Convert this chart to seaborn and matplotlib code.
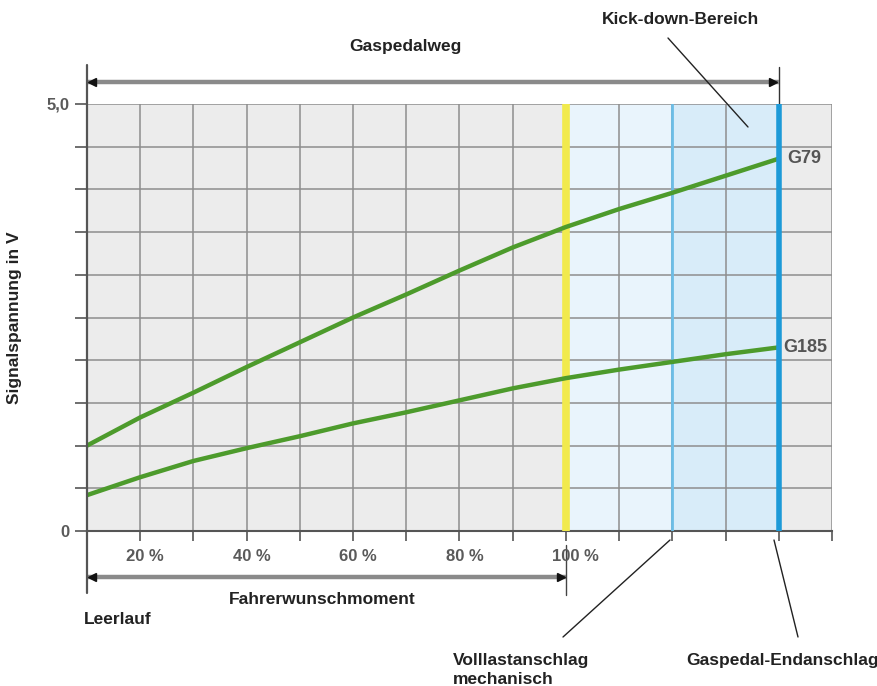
import matplotlib
matplotlib.use("Agg")
import pandas as pd
import matplotlib.pyplot as plt
import seaborn as sns

# Pedal travel (%) and sensor voltages (V)
pedal_pct = [10, 20, 30, 40, 50, 60, 70, 80, 90, 100, 110, 120, 130, 140]
g79_volt = [1.00, 1.33, 1.62, 1.92, 2.21, 2.50, 2.77, 3.05, 3.32, 3.56, 3.77, 3.96, 4.16, 4.36]
g185_volt = [0.42, 0.63, 0.82, 0.97, 1.11, 1.26, 1.39, 1.53, 1.67, 1.79, 1.89, 1.98, 2.07, 2.15]
sensor_names = ["G79", "G185"]

x_label_pos = [20, 40, 60, 80, 100]
x_label_text = ["20 %", "40 %", "60 %", "80 %", "100 %"]
y_label_text = {0.0: "0", 5.0: "5,0"}

full_load_pct = 100
kickdown_pct = 120
end_stop_pct = 140

W, H = 878, 686

sns.set_theme(style="whitegrid", rc={
    "axes.facecolor": "#ececec",
    "grid.color": "#8e8e8e",
    "grid.linewidth": 1.1,
})
plt.rcParams["font.family"] = ["Liberation Sans", "DejaVu Sans"]
plt.rcParams["font.weight"] = "bold"

df = pd.DataFrame({
    "pedal": pedal_pct * 2,
    "volt": g79_volt + g185_volt,
    "sensor": [sensor_names[0]] * len(pedal_pct) + [sensor_names[1]] * len(pedal_pct),
})

fig = plt.figure(figsize=(W / 100, H / 100), dpi=100)
ax = fig.add_axes([87 / W, 1 - 531 / H, (832 - 87) / W, (531 - 104) / H])

def px(x, y):
    return x / W, 1 - y / H

# shaded kick-down regions
ax.axvspan(full_load_pct, kickdown_pct, color="#e9f4fc", zorder=0.2, lw=0)
ax.axvspan(kickdown_pct, end_stop_pct, color="#d8ecf9", zorder=0.2, lw=0)

sns.lineplot(data=df, x="pedal", y="volt", hue="sensor",
             palette=["#4d9b2c", "#4d9b2c"], linewidth=3.2, legend=False, ax=ax, zorder=5)

ax.axvline(full_load_pct, color="#f1ea4d", lw=5.5, zorder=3)
ax.axvline(kickdown_pct, color="#6cbde6", lw=2, zorder=3)
ax.axvline(end_stop_pct, color="#1d9ad8", lw=4, zorder=6)

ax.set_xlim(10, 150)
ax.set_ylim(0, 5.0)
ax.set_xticks(range(10, 151, 10))
ax.set_xticklabels([])
yt = [i * 0.5 for i in range(11)]
ax.set_yticks(yt)
ax.set_yticklabels([y_label_text.get(v, "") for v in yt])
ax.tick_params(axis="y", length=8.5, width=1.2, color="#555555", left=True, pad=4,
               labelsize=12, labelcolor="#5a5a5a")
ax.tick_params(axis="x", length=7, width=1.2, color="#555555", bottom=True, direction="out")
for lab in ax.get_yticklabels():
    lab.set_fontweight("bold")
ax.set_xlabel("")
ax.set_ylabel("")

for sp in ["top", "right"]:
    ax.spines[sp].set_visible(False)
ax.spines["left"].set_visible(False)
ax.spines["bottom"].set_color("#555555")
ax.spines["bottom"].set_linewidth(1.5)

# x labels, starting just left of their ticks
for p, t in zip(x_label_pos, x_label_text):
    ax.text(p - 2.6, -0.30, t, ha="left", va="center", fontsize=12,
            color="#5a5a5a", fontweight="bold")

# sensor labels
ax.text(141.6, g79_volt[-1], sensor_names[0], ha="left", va="center", fontsize=13,
        color="#555555", fontweight="bold")
ax.text(140.8, g185_volt[-1], sensor_names[1], ha="left", va="center", fontsize=13,
        color="#555555", fontweight="bold")

# extended left axis line
ax.plot([10, 10], [-0.73, 5.46], color="#555555", lw=1.6, clip_on=False, zorder=7)
# end stop marker above plot and full-load marker below
ax.plot([end_stop_pct, end_stop_pct], [5.0, 5.43], color="#333333", lw=1, clip_on=False)
ax.plot([full_load_pct, full_load_pct], [-0.16, -0.75], color="#444444", lw=1, clip_on=False)

# double arrows
def dbl_arrow(x0, x1, y):
    ax.plot([x0, x1], [y, y], color="#8a8a8a", lw=3.2, clip_on=False, solid_capstyle="butt")
    ax.plot([x0 + 1.0], [y], marker="<", color="#111111", ms=6, clip_on=False, zorder=8)
    ax.plot([x1 - 1.0], [y], marker=">", color="#111111", ms=6, clip_on=False, zorder=8)

dbl_arrow(10, end_stop_pct, 5.26)
dbl_arrow(10, full_load_pct, -0.54)

# texts around the chart
tk = dict(fontsize=12.5, fontweight="bold", color="#222222")
fig.text(*px(405, 47), "Gaspedalweg", ha="center", va="center", **tk)
fig.text(*px(681, 20), "Kick-down-Bereich", ha="center", va="center", **tk)
fig.text(*px(15, 318), "Signalspannung in V", ha="center", va="center", rotation=90, **tk)
fig.text(*px(322, 600), "Fahrerwunschmoment", ha="center", va="center", **tk)
fig.text(*px(84, 620), "Leerlauf", ha="left", va="center", **tk)
fig.text(*px(453, 660), "Volllastanschlag", ha="left", va="center", **tk)
fig.text(*px(453, 679), "mechanisch", ha="left", va="center", **tk)
fig.text(*px(686, 660), "Gaspedal-Endanschlag", ha="left", va="center", **tk)

# leader lines
for (xa, ya), (xb, yb) in [((668, 38), (748, 127)),
                           ((563, 637), (670, 540)),
                           ((798, 637), (774, 540))]:
    a, b = px(xa, ya), px(xb, yb)
    fig.add_artist(plt.Line2D([a[0], b[0]], [a[1], b[1]], color="#222222", lw=1,
                              transform=fig.transFigure))

fig.savefig("out.png", dpi=100)
